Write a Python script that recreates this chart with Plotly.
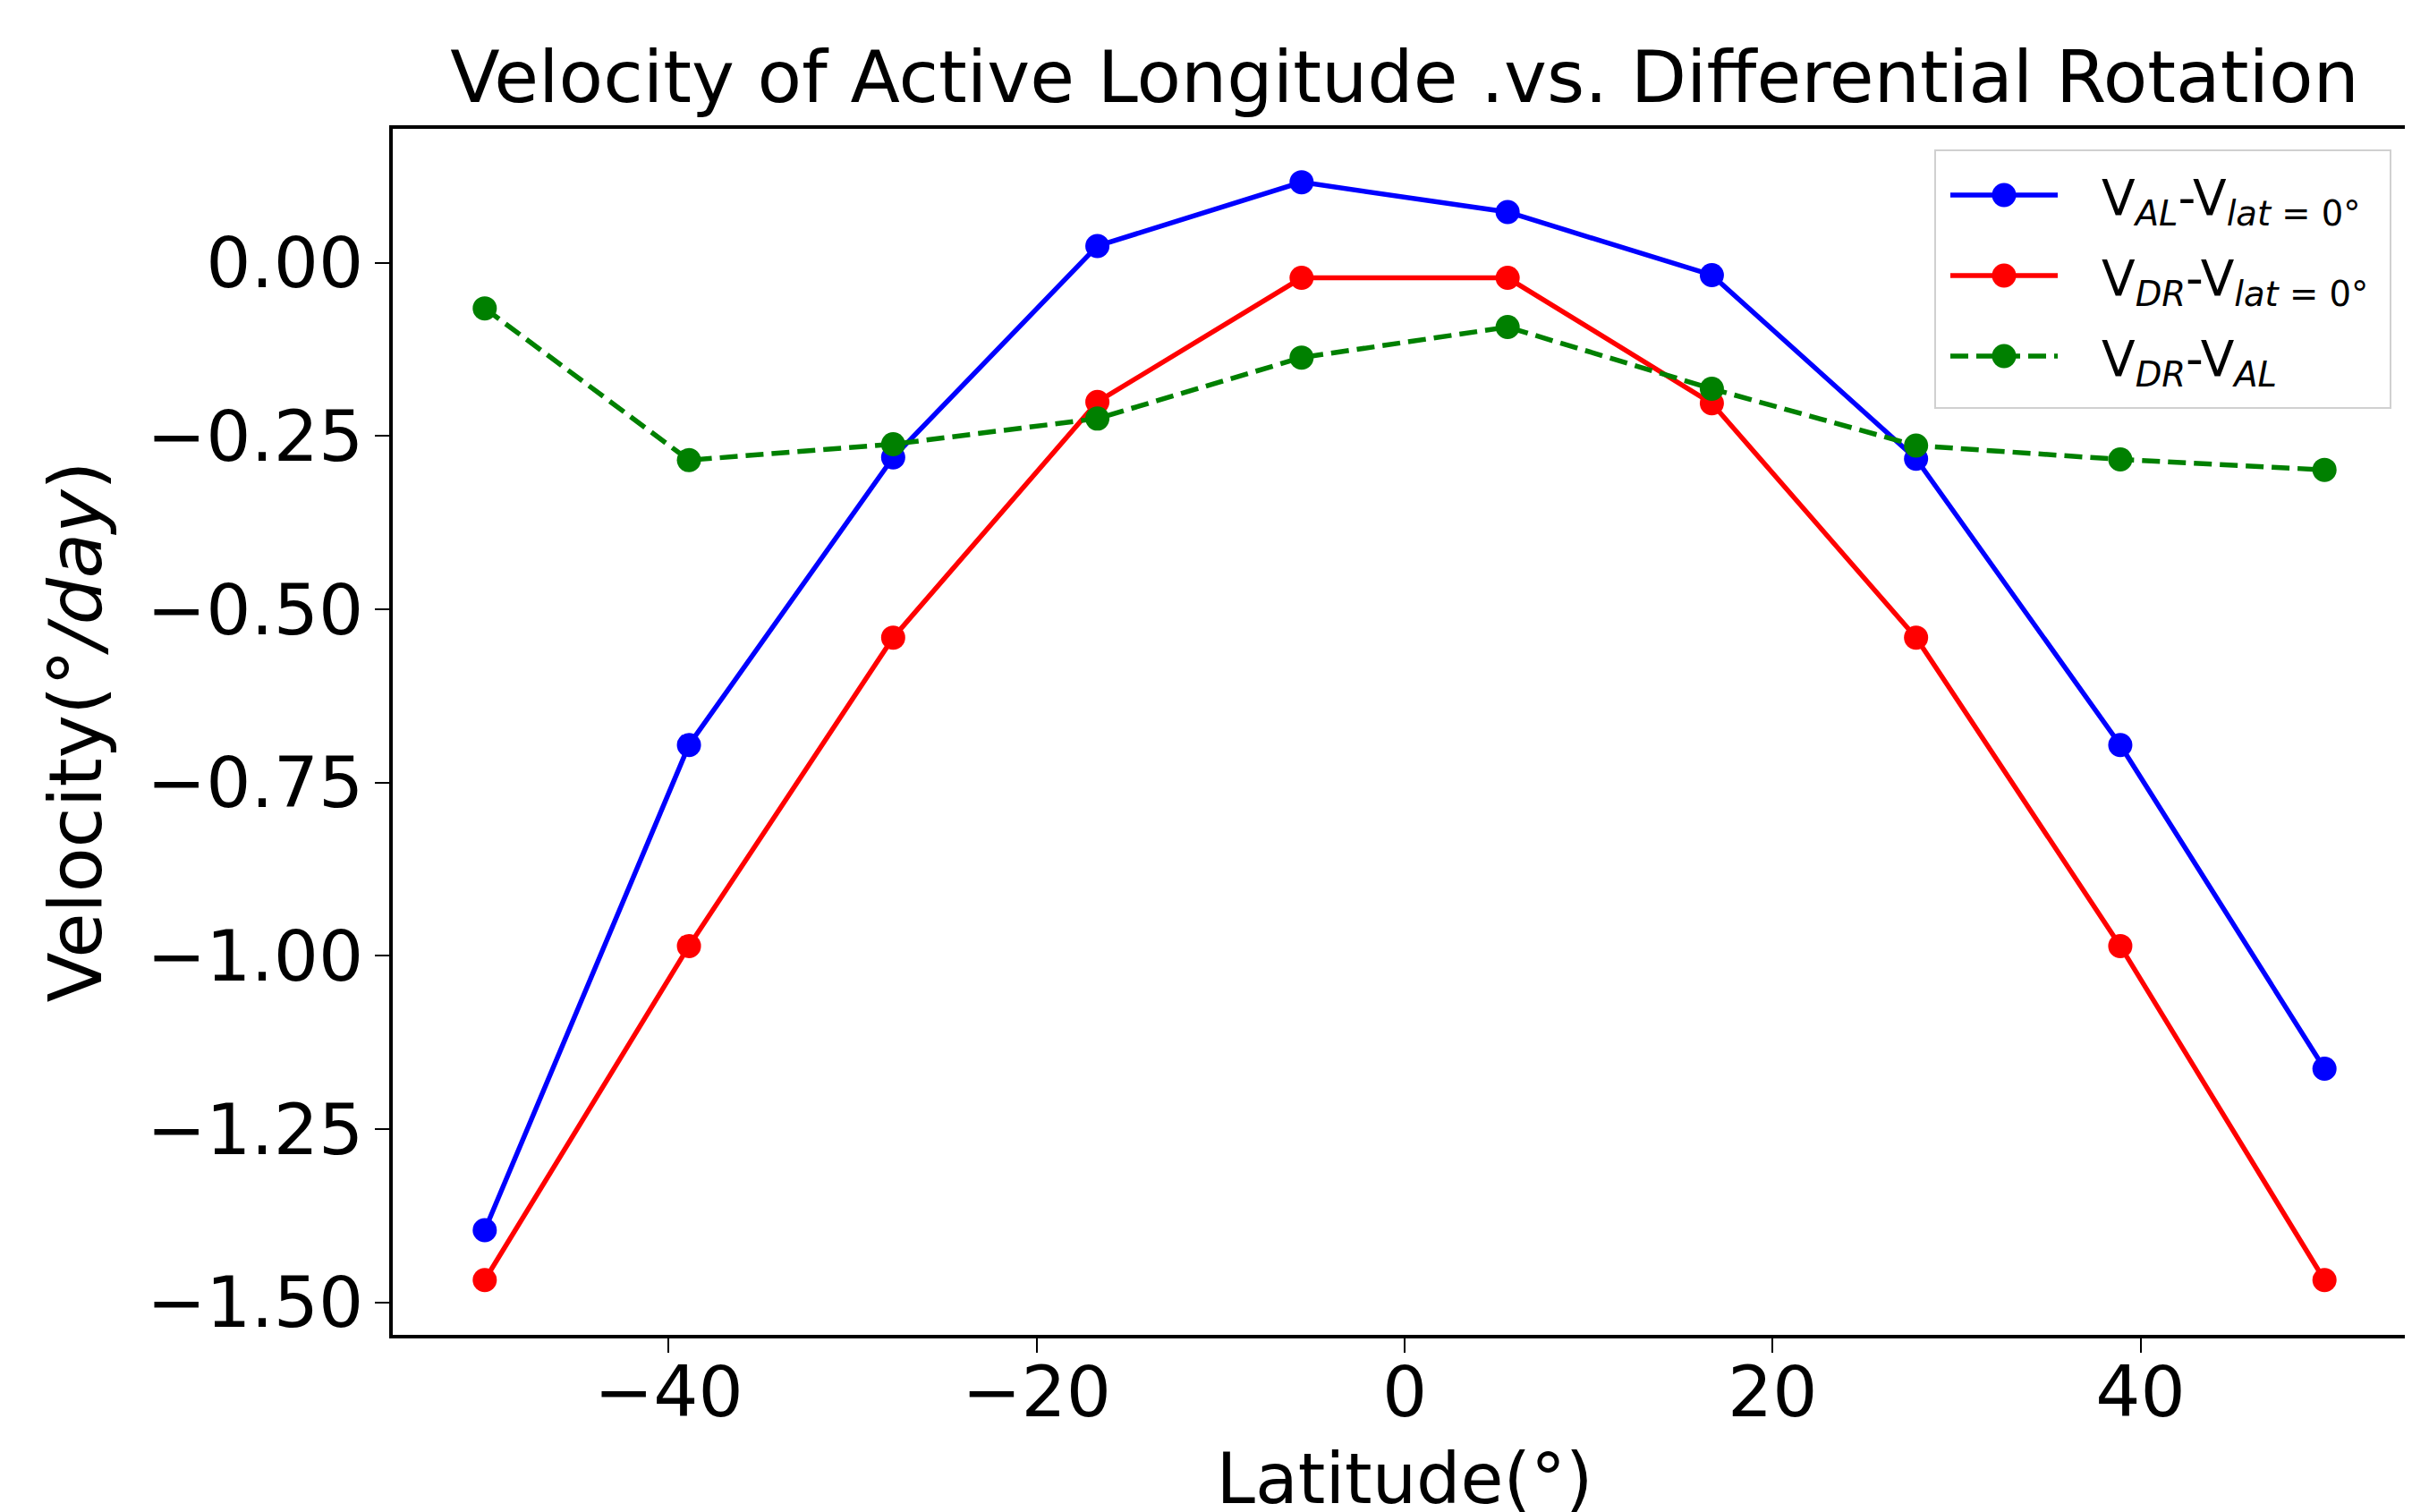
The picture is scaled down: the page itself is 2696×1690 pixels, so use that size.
import plotly.graph_objects as go

# ---- data ----
latitude = [-50.0, -38.9, -27.8, -16.7, -5.6, 5.6, 16.7, 27.8, 38.9, 50.0]
v_al = [-1.396, -0.696, -0.281, 0.024, 0.116, 0.073, -0.018, -0.283, -0.696, -1.163]
v_dr = [-1.468, -0.986, -0.541, -0.201, -0.022, -0.022, -0.203, -0.541, -0.986, -1.468]
v_dr_al = [-0.066, -0.285, -0.262, -0.225, -0.137, -0.093, -0.182, -0.264, -0.284, -0.299]

x_ticks = [-40, -20, 0, 20, 40]
y_ticks = [0.0, -0.25, -0.5, -0.75, -1.0, -1.25, -1.5]

names = [
    "V<sub><i>AL</i></sub>-V<sub><i>lat</i> = 0°</sub>",
    "V<sub><i>DR</i></sub>-V<sub><i>lat</i> = 0°</sub>",
    "V<sub><i>DR</i></sub>-V<sub><i>AL</i></sub>",
]
colors = ["#0000ff", "#ff0000", "#008000"]
dashes = ["solid", "solid", "20px,9px"]

W, H = 2696, 1690
ML, MR, MT, MB = 431, 3, 136, 206
PW, PH = W - ML - MR, H - MT - MB
FONT = "DejaVu Sans"
LW, MS = 5.5, 27


def px_x(p):
    return (p - ML) / PW


def px_y(p):
    return (H - MB - p) / PH


fig = go.Figure()
for y, name, c, d in zip([v_al, v_dr, v_dr_al], names, colors, dashes):
    fig.add_trace(go.Scatter(
        x=latitude, y=y, name=name, mode="lines+markers",
        line=dict(color=c, width=LW, dash=d),
        marker=dict(color=c, size=MS),
        showlegend=False,
    ))

axis_common = dict(
    showline=True, linecolor="black", linewidth=4,
    ticks="outside", ticklen=16, tickwidth=2, tickcolor="black",
    showgrid=False, zeroline=False, automargin=False,
    tickfont=dict(family=FONT, size=79, color="black"),
)

fig.update_layout(
    width=W, height=H,
    margin=dict(l=ML, r=MR, t=MT, b=MB),
    paper_bgcolor="white", plot_bgcolor="white",
    font=dict(family=FONT, color="black"),
    title=dict(
        text="Velocity of Active Longitude .vs. Differential Rotation",
        font=dict(family=FONT, size=81, color="black"),
        x=0.5, xref="paper", xanchor="center",
        y=1 - 78 / H, yref="container", yanchor="middle",
    ),
    xaxis=dict(
        **axis_common,
        range=[-55, 55], mirror=True,
        tickvals=x_ticks,
        title=dict(text="Latitude(°)", font=dict(family=FONT, size=78, color="black"), standoff=76),
        ticklabelstandoff=-24,
    ),
    yaxis=dict(
        **axis_common,
        range=[-1.547, 0.193], mirror=False,
        tickvals=y_ticks, tickformat=".2f",
        title=dict(text="Velocity(°<i>/day</i>)", font=dict(family=FONT, size=82, color="black"), standoff=24),
        ticklabelstandoff=-3,
    ),
    showlegend=False,
)

# ---- legend drawn by hand (matplotlib style, long sample lines) ----
box_l, box_r, box_t, box_b = 2155, 2664, 160, 448
fig.add_shape(type="rect", xref="paper", yref="paper",
              x0=px_x(box_l), x1=px_x(box_r), y0=px_y(box_b), y1=px_y(box_t),
              line=dict(color="#d0d0d0", width=2), fillcolor="white", layer="above")
row_y = [210, 300, 390]
line_x0, line_x1, text_x = 2172, 2292, 2339
for ry, name, c, d in zip(row_y, names, colors, dashes):
    fig.add_shape(type="line", xref="paper", yref="paper",
                  x0=px_x(line_x0), x1=px_x(line_x1), y0=px_y(ry), y1=px_y(ry),
                  line=dict(color=c, width=LW, dash=d), layer="above")
    fig.add_shape(type="circle", xref="paper", yref="paper",
                  xsizemode="pixel", ysizemode="pixel",
                  xanchor=px_x((line_x0 + line_x1) / 2), yanchor=px_y(ry),
                  x0=-MS / 2, x1=MS / 2, y0=-MS / 2, y1=MS / 2,
                  line=dict(width=0), fillcolor=c, layer="above")
    fig.add_annotation(text=name, xref="paper", yref="paper",
                       x=px_x(text_x), y=px_y(ry), xanchor="left", yanchor="middle",
                       yshift=-7, showarrow=False,
                       font=dict(family=FONT, size=55, color="black"))

fig.write_html("out.html")
